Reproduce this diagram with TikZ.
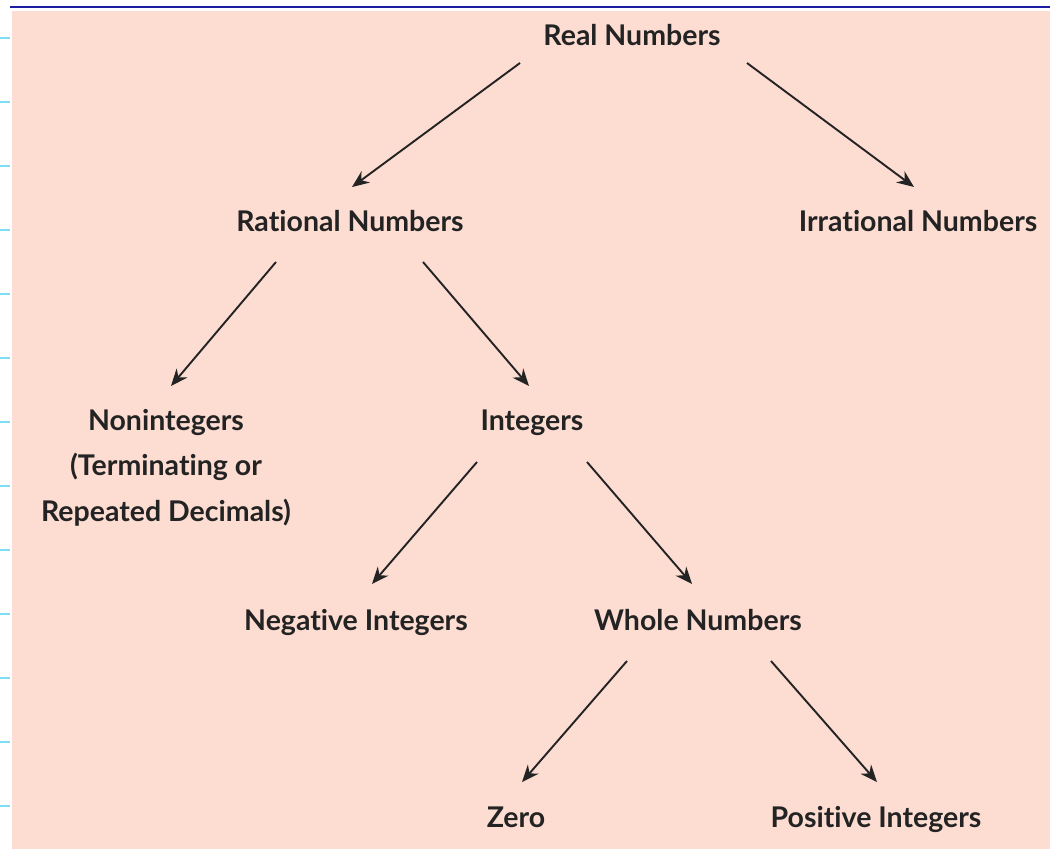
\documentclass[tikz,border=0pt]{standalone}
\usepackage{fontspec}
\setmainfont{Lato}[UprightFont=* Bold, Ligatures=NoCommon]
\usetikzlibrary{arrows.meta}
\definecolor{panel}{HTML}{FDDCD1}
\definecolor{ink}{HTML}{232323}
\definecolor{topblue}{HTML}{1E1EA0}
\definecolor{tick}{HTML}{7FDDF5}
\tikzset{
  lbl/.style={text=ink, font=\fontsize{28.5}{45.5}\selectfont, inner sep=0pt, align=center, anchor=base},
  arr/.style={draw=ink, line width=1.9pt, -{Stealth[length=17pt,width=14pt]}},
}
\begin{document}
\begin{tikzpicture}[x=1pt,y=-1pt]
\useasboundingbox (0,0) rectangle (1050,849);
\fill[white] (0,0) rectangle (1050,849);
\draw[topblue, line width=2pt] (10,6.5) -- (1050,6.5);
\fill[panel] (12,11) -- (1050,11) -- (1050,849) -- (34,849) arc[start angle=90, end angle=180, radius=22, y radius=-22] -- cycle;
\foreach \k in {0,...,12} \draw[tick, line width=2pt] (0,37.7+64*\k) -- (10,37.7+64*\k);

\node[lbl] (real) at (632,45.5) {Real Numbers};
\node[lbl] (rat) at (350,231.5) {Rational Numbers};
\node[lbl] (irr) at (918,231.5) {Irrational Numbers};
\node[lbl, anchor=center] (nonint) at (166,467.5) {Nonintegers\\(Terminating or\\Repeated Decimals)};
\node[lbl] (int) at (532,430.5) {Integers};
\node[lbl] (neg) at (356,630.5) {Negative Integers};
\node[lbl] (whole) at (698,630.5) {Whole Numbers};
\node[lbl] (zero) at (516,827.5) {Zero};
\node[lbl] (pos) at (876,827.5) {Positive Integers};

\draw[arr] ([shift={(-112,17.5)}]real.base) -- ([shift={(2,-44.5)}]rat.base);
\draw[arr] ([shift={(115,17.5)}]real.base) -- ([shift={(-4,-44.5)}]irr.base);
\draw[arr] ([shift={(-74,30.5)}]rat.base) -- ([shift={(5,-81.5)}]nonint.center);
\draw[arr] ([shift={(73,30.5)}]rat.base) -- ([shift={(-3,-44.5)}]int.base);
\draw[arr] ([shift={(-55,31.5)}]int.base) -- ([shift={(16,-46.5)}]neg.base);
\draw[arr] ([shift={(55,31.5)}]int.base) -- ([shift={(-6,-46.5)}]whole.base);
\draw[arr] ([shift={(-71,30.5)}]whole.base) -- ([shift={(6,-45.5)}]zero.base);
\draw[arr] ([shift={(73,30.5)}]whole.base) -- ([shift={(1,-45.5)}]pos.base);
\end{tikzpicture}
\end{document}
